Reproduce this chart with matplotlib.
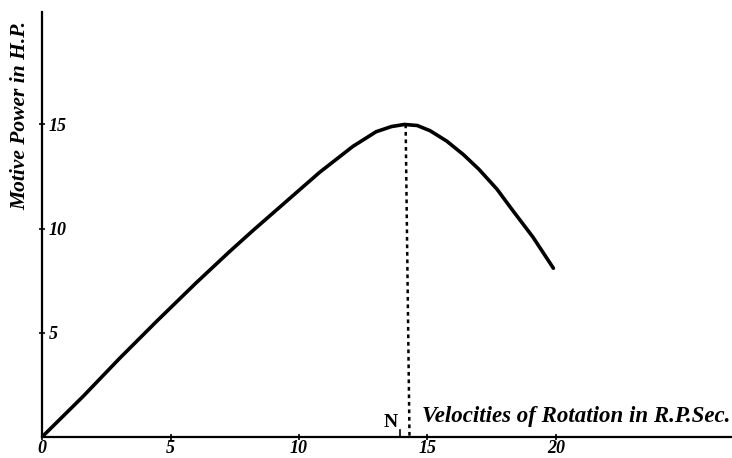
import numpy as np
import matplotlib.pyplot as plt

# motive power curve
velocity = [0, 1.6, 3.0, 4.5, 6.0, 7.3, 8.2, 9.5, 10.8, 12.1, 13.0, 13.6, 14.1, 14.6, 15.1, 15.75,
            16.4, 17.0, 17.7, 18.3, 19.1, 19.9]
power = [0, 1.95, 3.75, 5.6, 7.4, 8.9, 9.9, 11.3, 12.7, 13.95, 14.65, 14.9, 15.0, 14.95, 14.7, 14.2,
         13.55, 12.85, 11.9, 10.9, 9.6, 8.1]

x_ticks = [0, 5, 10, 15, 20]
y_ticks = [5, 10, 15]
peak_x = 14.15
peak_y = 15.0

font = {'family': 'Liberation Serif', 'style': 'italic', 'weight': 'bold'}

fig = plt.figure(figsize=(7.32, 4.58), dpi=100)
ax = fig.add_axes([0.0574, 0.0459, 0.9426, 0.928])

ax.plot(velocity, power, color='black', linewidth=2.6, solid_capstyle='round', solid_joinstyle='round')
ax.plot([peak_x, peak_x + 0.15], [peak_y, 0], color='black', linewidth=1.8, linestyle=(0, (1.5, 1.5)))

ax.set_xlim(0, 26.85)
ax.set_ylim(0, 20.4)

for s in ['top', 'right']:
    ax.spines[s].set_visible(False)
for s in ['left', 'bottom']:
    ax.spines[s].set_linewidth(1.6)

ax.set_xticks(x_ticks)
ax.set_xticklabels([str(t) for t in x_ticks], fontdict=font, fontsize=13)
ax.set_yticks(y_ticks)
ax.set_yticklabels([str(t) for t in y_ticks], fontdict=font, fontsize=13)
ax.tick_params(axis='x', direction='inout', length=4, width=1.2, pad=0)
ax.tick_params(axis='y', direction='inout', length=4, width=1.2, pad=-7)
for lbl in ax.get_yticklabels():
    lbl.set_horizontalalignment('left')

ax.set_ylabel('Motive Power in H.P.', fontdict=font, fontsize=15.5)
ax.yaxis.set_label_coords(-0.017, 0.757)

ax.text(14.8, 0.5, 'Velocities of Rotation in R.P.Sec.', fontdict=font, fontsize=16.5, ha='left', va='bottom')
ax.text(13.55, 0.3, 'N', family='Liberation Serif', weight='bold', fontsize=14, ha='center', va='bottom')
ax.plot([13.95, 13.95], [0, 0.35], color='black', linewidth=1.2)

fig.savefig('out.png', dpi=100)
